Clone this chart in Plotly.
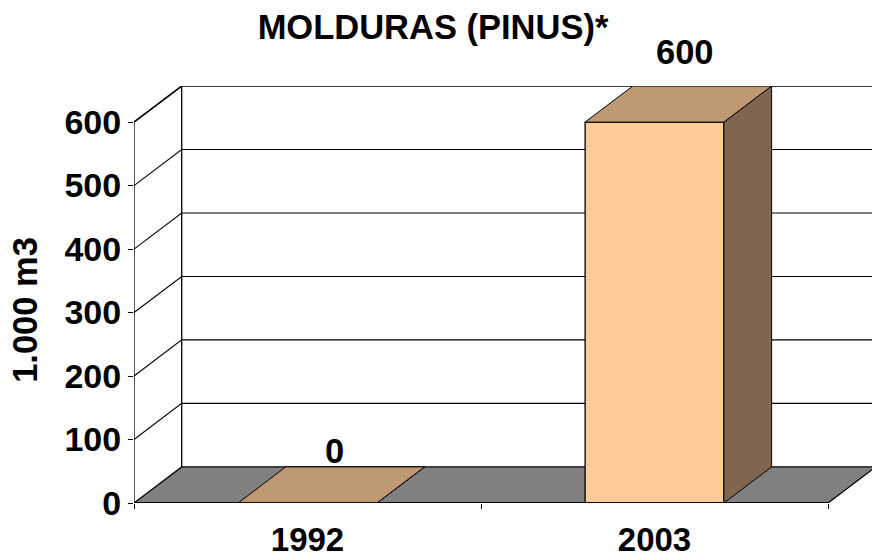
import plotly.graph_objects as go

categories = ["1992", "2003"]
values = [0, 600]
y_ticks = [0, 100, 200, 300, 400, 500, 600]
title_text = "MOLDURAS (PINUS)*"
y_title = "1.000 m3"

BLACK = "#000000"
FONT = "Liberation Sans"
W, H = 872, 557
L, R_EDGE, T, B = 134, 872, 85.7, 503.5
UNIT_X = 347.0
DX = 47.7 / UNIT_X
DY = 36.2 / (381.8 / 600)
BAR_W = 0.4
xmax = (R_EDGE - L) / UNIT_X
ymax = max(y_ticks) + DY
centers = [i + 0.5 for i in range(len(categories))]
n = len(categories)


def bold(size):
    return dict(family=FONT, size=size, color=BLACK, weight=700)


fig = go.Figure()


def line(xs, ys, axes=("x", "y"), width=1.0):
    fig.add_trace(go.Scatter(x=xs, y=ys, mode="lines", xaxis=axes[0], yaxis=axes[1],
                             line=dict(color=BLACK, width=width), cliponaxis=False,
                             hoverinfo="skip", showlegend=False))


def poly(xs, ys, color, axes=("x", "y"), width=1.0):
    fig.add_trace(go.Scatter(x=xs, y=ys, mode="lines", fill="toself", fillcolor=color,
                             xaxis=axes[0], yaxis=axes[1],
                             line=dict(color=BLACK, width=width), cliponaxis=False,
                             hoverinfo="skip", showlegend=False))


# floor
poly([0, DX, n + DX, n, 0], [0, DY, DY, 0, 0], "#808080", width=1.3)
# gridlines on the walls
for v in y_ticks[1:]:
    line([0, DX, n + DX], [v, v + DY, v + DY], width=1.6 if v == max(y_ticks) else 1.1)
# walls
line([0, 0], [0, max(y_ticks)], width=1.3)
line([DX, DX], [DY, max(y_ticks) + DY], width=1.3)

# bars on an overlay so they sit above the floor
fig.add_trace(go.Bar(x=centers, y=values, width=BAR_W, xaxis="x2", yaxis="y2",
                     marker=dict(color="#FFCC99", line=dict(color=BLACK, width=1.3)),
                     hoverinfo="skip", showlegend=False))
ov = ("x2", "y2")
for c, v in zip(centers, values):
    x0, x1 = c - BAR_W / 2, c + BAR_W / 2
    poly([x1, x1 + DX, x1 + DX, x1, x1], [0, DY, v + DY, v, 0], "#806650", ov)
    poly([x0, x0 + DX, x1 + DX, x1, x0], [v, v + DY, v + DY, v, v], "#BF9973", ov)
# front edge of the floor, ending at the last tick
line([0, n], [0, 0], ov, width=1.5)

# data labels
label_shift = [(27, 52), (30.5, 70.5)]
annots = []
for c, v, (sx, sy) in zip(centers, values, label_shift):
    annots.append(dict(x=c, y=v, xref="x", yref="y", text=str(v), showarrow=False,
                       xanchor="center", yanchor="middle", xshift=sx, yshift=sy, font=bold(34.5)))
# value-axis title
annots.append(dict(x=0, y=(B - 310) / (B - T), xref="paper", yref="paper", text=y_title,
                   showarrow=False, textangle=-90, xanchor="center", yanchor="middle",
                   xshift=25 - L, font=bold(34.5)))

fig.update_layout(
    width=W, height=H, autosize=False,
    margin=dict(l=L, r=0, t=T, b=H - B, pad=0),
    paper_bgcolor="#FFFFFF", plot_bgcolor="rgba(0,0,0,0)",
    showlegend=False, barmode="overlay",
    title=dict(text=title_text, font=bold(34.5), x=433 / W, xref="container",
               xanchor="center", y=1 - 27 / H, yref="container", yanchor="middle"),
    xaxis=dict(range=[0, xmax], tickmode="array", tickvals=centers, ticktext=categories,
               ticks="", showgrid=False, zeroline=False, showline=False,
               tickfont=bold(33), ticklabelstandoff=14, automargin=False,
               minor=dict(tickmode="array", tickvals=list(range(n + 1)), ticks="outside",
                          ticklen=5, tickcolor=BLACK, tickwidth=1, showgrid=False)),
    yaxis=dict(range=[0, ymax], tickmode="array", tickvals=y_ticks, ticks="outside", ticklen=5,
               tickcolor=BLACK, tickwidth=1, showgrid=False, zeroline=False, showline=False,
               tickfont=bold(34), automargin=False),
    xaxis2=dict(range=[0, xmax], overlaying="x", visible=False, fixedrange=True),
    yaxis2=dict(range=[0, ymax], overlaying="y", visible=False, fixedrange=True),
    annotations=annots,
)
fig.write_html("out.html", config={"displayModeBar": False},
               post_script="document.documentElement.style.margin='0';document.body.style.margin='0';document.body.style.overflow='hidden';")
